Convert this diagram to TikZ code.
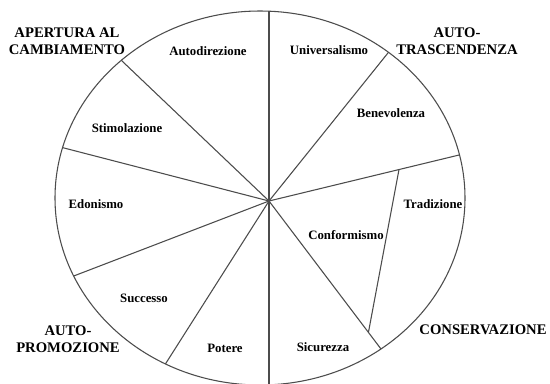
\documentclass[tikz,border=0pt]{standalone}
\usepackage{fontspec}
\setmainfont{Liberation Serif}
\begin{document}
\begin{tikzpicture}[x=0.75pt,y=-0.75pt,
  wline/.style={draw=black!70,line width=0.8pt},
  small/.style={font=\bfseries\fontsize{9.6}{11}\selectfont,inner sep=0pt},
  big/.style={font=\bfseries\fontsize{11}{12.5}\selectfont,inner sep=0pt,align=center}]
\useasboundingbox (0,0) rectangle (550,383);
\clip (0,0) rectangle (550,383);
\fill[white] (0,0) rectangle (550,383);
% hub and rim points
\coordinate (hub) at (269,201);
\coordinate (top) at (269,11);
\coordinate (bot) at (269,390);
\coordinate (p1) at (121.3,60.3);
\coordinate (p2) at (62.5,147.6);
\coordinate (p3) at (73.7,276);
\coordinate (p4) at (165.4,364);
\coordinate (p5) at (388.5,52.3);
\coordinate (p6) at (459.5,154.9);
\coordinate (p7) at (381,349);
\coordinate (t1) at (399,169.5);
\coordinate (t2) at (368.5,332);
% ellipse
\draw[wline] (260,198) ellipse [x radius=205, y radius=187];
% spokes
\draw[wline] (top) -- (bot);
\foreach \p in {p1,p2,p3,p4,p5,p6,p7} \draw[wline] (hub) -- (\p);
\draw[wline] (t1) -- (t2);
% small labels
\node[small] (autod) at (208,51) {Autodirezione};
\node[small] (univ) at (329,50) {Universalismo};
\node[small] (bene) at (391,113) {Benevolenza};
\node[small] (stim) at (127,128) {Stimolazione};
\node[small] (edon) at (96,204) {Edonismo};
\node[small] (trad) at (433,204) {Tradizione};
\node[small] (conf) at (346,235) {Conformismo};
\node[small] (succ) at (144,298) {Successo};
\node[small] (pot) at (225,348) {Potere};
\node[small] (sic) at (323,347) {Sicurezza};
% big labels
\node[big] (apert) at (67,41) {APERTURA AL\\CAMBIAMENTO};
\node[big] (autot) at (457,41) {AUTO-\\TRASCENDENZA};
\node[big] (autop) at (68,339) {AUTO-\\PROMOZIONE};
\node[big] (cons) at (483,330) {CONSERVAZIONE};
\end{tikzpicture}
\end{document}
